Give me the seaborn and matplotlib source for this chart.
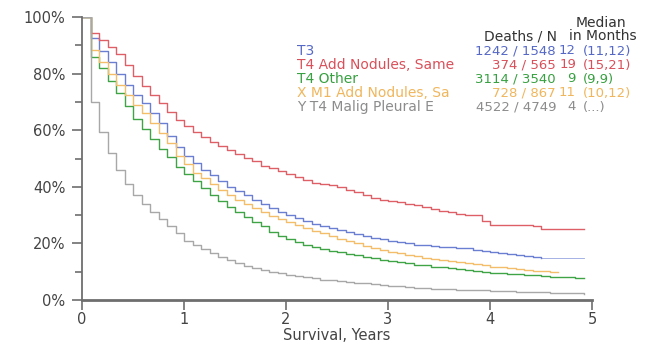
import numpy as np
import pandas as pd
import matplotlib
matplotlib.use("Agg")
import matplotlib.pyplot as plt
import seaborn as sns
from matplotlib.ticker import MultipleLocator, FuncFormatter

# ---- data (survival %, monthly, month 0..59) ----
groups = ["T3", "T4 Add Nodules, Same", "T4 Other", "X M1 Add Nodules, Sa", "Y T4 Malig Pleural E"]
deaths_n = ["1242 / 1548", "374 / 565", "3114 / 3540", "728 / 867", "4522 / 4749"]
median_months = ["12", "19", "9", "11", "4"]
median_ci = ["(11,12)", "(15,21)", "(9,9)", "(10,12)", "(...)"]

surv_t3 = [100, 92.5, 88, 84, 80, 76, 72.5, 69.5, 66, 62.5, 58, 54, 51, 48.5, 46, 44, 42, 40, 38.5, 37,
           35.5, 34, 32.5, 31, 30, 29, 28, 27, 26.2, 25.4, 24.6, 24, 23.4, 22.7, 22, 21.4, 20.8, 20.4, 20, 19.6,
           19.3, 19, 18.8, 18.6, 18.4, 18.2, 17.8, 17.4, 17, 16.6, 16.3, 16, 15.6, 15.3, 15]
surv_t3_tail = [15, 15, 15, 15, 15, 15]          # months 54..59, thin censored tail
surv_t4_same = [100, 94.5, 92, 89.5, 87, 83, 79, 75.5, 72.5, 69.5, 66.5, 63.5, 61.5, 59.5, 57.5, 56, 54.5, 53, 51.5, 50.3,
                49, 47.5, 46.5, 45.5, 44.5, 43.5, 42.5, 41.5, 41, 40.5, 40, 39, 38, 37, 36, 35.5, 35, 34.5, 34, 33.5,
                33, 32, 31.5, 31, 30.5, 30, 30, 28, 26.5, 26.5, 26.5, 26.5, 26.5, 26, 25, 25, 25, 25, 25, 25]
surv_t4_other = [100, 86, 82, 77.5, 73, 68.5, 64, 60.5, 57, 53.5, 50.5, 47, 44.5, 42, 39.5, 37, 35, 33, 31, 29.5,
                 27.5, 26, 24, 22.5, 21.5, 20.5, 19.5, 18.8, 18, 17.4, 16.8, 16.3, 15.8, 15.3, 14.8, 14.3, 13.8, 13.3, 12.9, 12.5,
                 12.2, 11.8, 11.5, 11.2, 10.9, 10.6, 10.3, 10, 9.7, 9.5, 9.3, 9.1, 8.9, 8.7, 8.5, 8.3, 8.2, 8.0, 7.9, 7.8]
surv_m1 = [100, 88.5, 84, 80, 76, 72.5, 69, 66, 62.5, 59, 55.5, 51, 48, 45, 43, 41, 39, 37, 35.5, 34,
           32.5, 31, 29.8, 28.5, 27.5, 26.5, 25.5, 24.5, 23.5, 22.5, 21.5, 20.7, 20, 19.2, 18.5, 17.7, 17, 16.5, 16, 15.5,
           15, 14.6, 14.2, 13.8, 13.4, 13.1, 12.8, 12.3, 11.8, 11.5, 11.2, 10.9, 10.6, 10.4, 10.2, 10, 9.8]
surv_pleural = [100, 70, 59.5, 52, 46, 41, 37, 34, 31, 28.5, 26, 23.5, 21, 19.5, 18, 16.5, 15.2, 14, 13, 12,
                11.2, 10.6, 10, 9.5, 9, 8.5, 8, 7.6, 7.2, 6.9, 6.6, 6.3, 6.1, 5.9, 5.7, 5.4, 5.1, 4.8, 4.6, 4.4,
                4.2, 4.0, 3.9, 3.8, 3.7, 3.6, 3.5, 3.4, 3.3, 3.2, 3.1, 3.0, 2.9, 2.8, 2.7, 2.6, 2.5, 2.4, 2.3, 2.2]

series = [surv_t3, surv_t4_same, surv_t4_other, surv_m1, surv_pleural]
colors = ["#6a7ed2", "#de5f66", "#3fa445", "#f3bd6a", "#a8a8a8"]
text_colors = ["#5568c6", "#d9505a", "#37a040", "#f0b65c", "#8c8c8c"]

rows = []
for g, s in zip(groups, series):
    for m, v in enumerate(s):
        rows.append({"group": g, "years": m / 12.0, "surv": v})
df = pd.DataFrame(rows)
tail = pd.DataFrame({"years": [(54 + i) / 12.0 for i in range(len(surv_t3_tail))], "surv": surv_t3_tail})

W, H = 651, 344
fig = plt.figure(figsize=(W / 100, H / 100), dpi=100)
ax = fig.add_axes([82 / W, 1 - 300 / H, 510 / W, 283 / H])

sns.lineplot(data=df, x="years", y="surv", hue="group", hue_order=groups,
             palette=dict(zip(groups, colors)), drawstyle="steps-post",
             estimator=None, legend=False, linewidth=1.0, ax=ax)
sns.lineplot(data=tail, x="years", y="surv", color=colors[0], drawstyle="steps-post",
             estimator=None, linewidth=0.6, alpha=0.7, ax=ax)

ax.set_xlim(0, 5)
ax.set_ylim(0, 100)
ax.xaxis.set_major_locator(MultipleLocator(1))
ax.yaxis.set_major_locator(MultipleLocator(20))
ax.yaxis.set_minor_locator(MultipleLocator(10))
ax.yaxis.set_major_formatter(FuncFormatter(lambda v, p: f"{int(v)}%"))
for s in ["top", "right"]:
    ax.spines[s].set_visible(False)
for s in ["left", "bottom"]:
    ax.spines[s].set_color("#6e6e6e")
ax.spines["left"].set_linewidth(1.3)
ax.spines["bottom"].set_linewidth(2.0)
ax.tick_params(axis="both", which="both", direction="out", color="#6e6e6e", width=1.2,
               labelsize=10.5, labelcolor="#444444")
ax.tick_params(axis="y", which="major", length=7, pad=5)
ax.tick_params(axis="y", which="minor", length=5)
ax.tick_params(axis="x", which="major", length=7, pad=2)
ax.set_xlabel("Survival, Years", fontsize=10.5, color="#444444", labelpad=0)
ax.set_ylabel("")
ax.set_facecolor("white")

def ft(x, y, s, size=10, **kw):
    fig.text(x / W, 1 - y / H, s, va="center", fontsize=size, **kw)

ft(601, 23, "Median", ha="center", color="#333333")
ft(557, 36, "Deaths / N", ha="right", color="#333333")
ft(603, 36, "in Months", ha="center", color="#333333")
row_y = [51, 65, 79, 93, 107]
for i, g in enumerate(groups):
    c = text_colors[i]
    ft(297, row_y[i], g, ha="left", color=c)
    ft(556, row_y[i], deaths_n[i], size=9.5, ha="right", color=c)
    ft(576, row_y[i], median_months[i], size=9.5, ha="right", color=c)
    ft(583, row_y[i], median_ci[i], size=9.5, ha="left", color=c)

fig.savefig("out.png", dpi=100, facecolor="white")
